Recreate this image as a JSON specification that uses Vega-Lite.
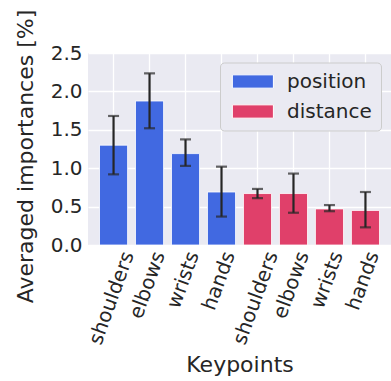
{
  "$schema": "https://vega.github.io/schema/vega-lite/v6.json",
  "autosize": "none",
  "width": 303,
  "height": 192,
  "padding": {"left": 88, "top": 53, "right": 0, "bottom": 136},
  "background": "white",
  "data": {"values": [
    {"k": "1 shoulders", "group": "position", "value": 1.30, "lo": 0.92, "hi": 1.68},
    {"k": "2 elbows", "group": "position", "value": 1.875, "lo": 1.52, "hi": 2.235},
    {"k": "3 wrists", "group": "position", "value": 1.19, "lo": 1.03, "hi": 1.375},
    {"k": "4 hands", "group": "position", "value": 0.69, "lo": 0.37, "hi": 1.02},
    {"k": "5 shoulders", "group": "distance", "value": 0.67, "lo": 0.61, "hi": 0.73},
    {"k": "6 elbows", "group": "distance", "value": 0.67, "lo": 0.42, "hi": 0.93},
    {"k": "7 wrists", "group": "distance", "value": 0.47, "lo": 0.44, "hi": 0.52},
    {"k": "8 hands", "group": "distance", "value": 0.45, "lo": 0.23, "hi": 0.69}
  ]},
  "encoding": {
    "x": {
      "field": "k", "type": "nominal", "sort": "ascending",
      "scale": {"paddingInner": 0.22, "paddingOuter": 0.32},
      "axis": {
        "title": "Keypoints",
        "labelExpr": "substring(datum.label, 2)",
        "labelAngle": -70,
        "labelAlign": "right",
        "labelBaseline": "middle",
        "labelPadding": 7,
        "labelOverlap": false,
        "labelOffset": {"condition": [
          {"test": "indexof(datum.label, 'shoulders') >= 0", "value": 15},
          {"test": "indexof(datum.label, 'elbows') >= 0", "value": 10}
        ], "value": 8},
        "titleY": 126.7,
        "titleBaseline": "alphabetic",
        "titleFontSize": 22
      }
    }
  },
  "layer": [
    {
      "mark": {"type": "bar", "stroke": "white", "strokeWidth": 0.8},
      "encoding": {
        "y": {
          "field": "value", "type": "quantitative",
          "scale": {"domain": [0, 2.5], "nice": false},
          "axis": {
            "title": "Averaged importances [%]",
            "values": [0, 0.5, 1, 1.5, 2, 2.5],
            "format": ".1f",
            "labelPadding": 6,
            "labelOverlap": false,
            "labelBound": false,
            "labelFlush": false,
            "titleFontSize": 22,
            "titleX": -56,
            "titleY": 103,
            "titleBaseline": "alphabetic",
            "titleAngle": -90
          }
        },
        "color": {
          "field": "group", "type": "nominal",
          "scale": {"domain": ["position", "distance"], "range": ["#4169E1", "#E0406A"]},
          "legend": {"title": null, "rowPadding": 10}
        }
      }
    },
    {
      "mark": {"type": "rule", "color": "#262626", "strokeWidth": 2.2},
      "encoding": {
        "y": {"field": "lo", "type": "quantitative",
          "axis": {
            "title": "Averaged importances [%]",
            "values": [0, 0.5, 1, 1.5, 2, 2.5],
            "format": ".1f",
            "labelPadding": 6,
            "labelOverlap": false,
            "labelBound": false,
            "labelFlush": false,
            "titleFontSize": 22,
            "titleX": -56,
            "titleY": 103,
            "titleBaseline": "alphabetic",
            "titleAngle": -90
          }},
        "y2": {"field": "hi"}
      }
    },
    {
      "mark": {"type": "tick", "color": "#262626", "size": 11, "thickness": 2.2},
      "encoding": {"y": {"field": "lo", "type": "quantitative",
          "axis": {
            "title": "Averaged importances [%]",
            "values": [0, 0.5, 1, 1.5, 2, 2.5],
            "format": ".1f",
            "labelPadding": 6,
            "labelOverlap": false,
            "labelBound": false,
            "labelFlush": false,
            "titleFontSize": 22,
            "titleX": -56,
            "titleY": 103,
            "titleBaseline": "alphabetic",
            "titleAngle": -90
          }}}
    },
    {
      "mark": {"type": "tick", "color": "#262626", "size": 11, "thickness": 2.2},
      "encoding": {"y": {"field": "hi", "type": "quantitative",
          "axis": {
            "title": "Averaged importances [%]",
            "values": [0, 0.5, 1, 1.5, 2, 2.5],
            "format": ".1f",
            "labelPadding": 6,
            "labelOverlap": false,
            "labelBound": false,
            "labelFlush": false,
            "titleFontSize": 22,
            "titleX": -56,
            "titleY": 103,
            "titleBaseline": "alphabetic",
            "titleAngle": -90
          }}}
    }
  ],
  "config": {
    "font": "DejaVu Sans",
    "view": {"fill": "#EAEAF2", "stroke": null},
    "axis": {
      "domain": false,
      "ticks": false,
      "tickSize": 0,
      "grid": true,
      "gridColor": "white",
      "gridWidth": 1.3,
      "labelFont": "DejaVu Sans",
      "labelFontSize": 20,
      "labelColor": "#262626",
      "titleFont": "DejaVu Sans",
      "titleFontWeight": "normal",
      "titleColor": "#262626"
    },
    "legend": {
      "orient": "none",
      "legendX": 132,
      "legendY": 9.5,
      "padding": 9,
      "fillColor": "#EAEAF2",
      "strokeColor": "#CCCCCC",
      "cornerRadius": 4,
      "labelFont": "DejaVu Sans",
      "labelFontSize": 20,
      "labelColor": "#262626",
      "labelOffset": 38,
      "symbolType": "M-1,-1L5.17,-1L5.17,1L-1,1Z",
      "symbolSize": 177,
      "symbolStrokeColor": "white",
      "symbolStrokeWidth": 1
    }
  }
}
